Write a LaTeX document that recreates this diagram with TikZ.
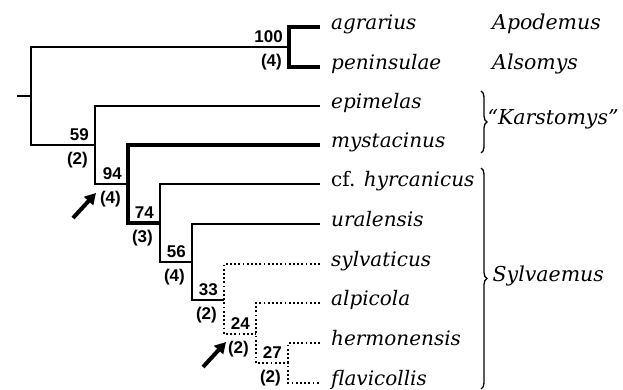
\documentclass[tikz,border=0pt]{standalone}
\usepackage{fontspec}
\setmainfont{DejaVu Serif}
\setsansfont{Liberation Sans}
\usetikzlibrary{arrows.meta,decorations.pathreplacing}

\begin{document}
\begin{tikzpicture}[x=1pt, y=-1pt,
  taxon/.style={anchor=west, inner xsep=11pt, inner ysep=0pt, text height=0.75em, text depth=0.25em,
    font=\fontsize{20}{22}\selectfont\itshape},
  genus/.style={anchor=west, inner sep=0pt, text height=0.75em, text depth=0.25em,
    font=\fontsize{20.5}{22}\selectfont\itshape},
  supp/.style={anchor=south east, inner xsep=6pt, inner ysep=4.5pt,
    font=\fontsize{17}{18}\selectfont\sffamily\bfseries},
  nobs/.style={anchor=north east, inner xsep=7pt, inner ysep=7pt,
    font=\fontsize{17}{18}\selectfont\sffamily\bfseries},
  branch/.style={line width=1.4pt},
  boldbranch/.style={line width=3.6pt, line join=miter},
  dotbranch/.style={line width=1.8pt, dash pattern=on 1.8pt off 2.4pt},
  pointer/.style={line width=4pt, -{Triangle[length=11pt, width=12pt]}},
  clade/.style={decorate, decoration={brace, amplitude=6pt}, line width=1.3pt}]

\useasboundingbox (0,0) rectangle (623,390);

% Tips
\node[taxon] (agr) at (320,27)  {agrarius};
\node[taxon] (pen) at (320,67)  {peninsulae};
\node[taxon] (epi) at (320,106) {epimelas};
\node[taxon] (mys) at (320,145) {mystacinus};
\node[taxon] (hyr) at (320,184) {\upshape cf. \itshape hyrcanicus};
\node[taxon] (ura) at (320,224) {uralensis};
\node[taxon] (syl) at (320,264) {sylvaticus};
\node[taxon] (alp) at (320,303) {alpicola};
\node[taxon] (her) at (320,343) {hermonensis};
\node[taxon] (fla) at (320,383) {flavicollis};

% Internal nodes
\coordinate (stub) at (17,96);
\coordinate (root) at (31,96);
\coordinate (n100) at (289,47);
\coordinate (n59) at (95,145);
\coordinate (n94) at (128,184);
\coordinate (n74) at (160,223);
\coordinate (n56) at (192,262);
\coordinate (n33) at (224,300);
\coordinate (n24) at (256,334);
\coordinate (n27) at (288,363);

% Branches
\draw[branch] (stub) -- (root);
\draw[branch] (n100) -| (root) |- (n59);
\draw[boldbranch] (agr.west) -| (n100) |- (pen.west);
\draw[branch] (epi.west) -| (n59) |- (n94);
\draw[boldbranch] (mys.west) -| (n94) |- (n74);
\draw[branch] (hyr.west) -| (n74) |- (n56);
\draw[branch] (ura.west) -| (n56) |- (n33);
\draw[dotbranch] (syl.west) -| (n33) |- (n24);
\draw[dotbranch] (alp.west) -| (n24) |- (n27);
\draw[dotbranch] (her.west) -| (n27) |- (fla.west);

% Support values
\node[supp] at (n100) {100};
\node[nobs] at (n100) {(4)};
\node[supp] at (n59) {59};
\node[nobs] at (n59) {(2)};
\node[supp] at (n94) {94};
\node[nobs] at (n94) {(4)};
\node[supp] at (n74) {74};
\node[nobs] at (n74) {(3)};
\node[supp] at (n56) {56};
\node[nobs] at (n56) {(4)};
\node[supp] at (n33) {33};
\node[nobs] at (n33) {(2)};
\node[supp] at (n24) {24};
\node[nobs] at (n24) {(2)};
\node[supp] at (n27) {27};
\node[nobs] at (n27) {(2)};

% Arrows
\coordinate (a1s) at (73,218);
\coordinate (a1e) at (96,193);
\coordinate (a2s) at (203,367);
\coordinate (a2e) at (226,342);
\draw[pointer] (a1s) -- (a1e);
\draw[pointer] (a2s) -- (a2e);

% Genera
\node[genus] (apo) at (492,27) {Apodemus};
\node[genus] (als) at (492,67) {Alsomys};
\coordinate (k1) at (481,91);
\coordinate (k2) at (481,153);
\coordinate (s1) at (481,168);
\coordinate (s2) at (481,389);
\draw[clade] (k1) -- (k2) node[genus, midway, xshift=6pt] (kar) {``Karstomys''};
\draw[clade] (s1) -- (s2) node[genus, midway, xshift=11pt] (syv) {Sylvaemus};

\end{tikzpicture}
\end{document}
